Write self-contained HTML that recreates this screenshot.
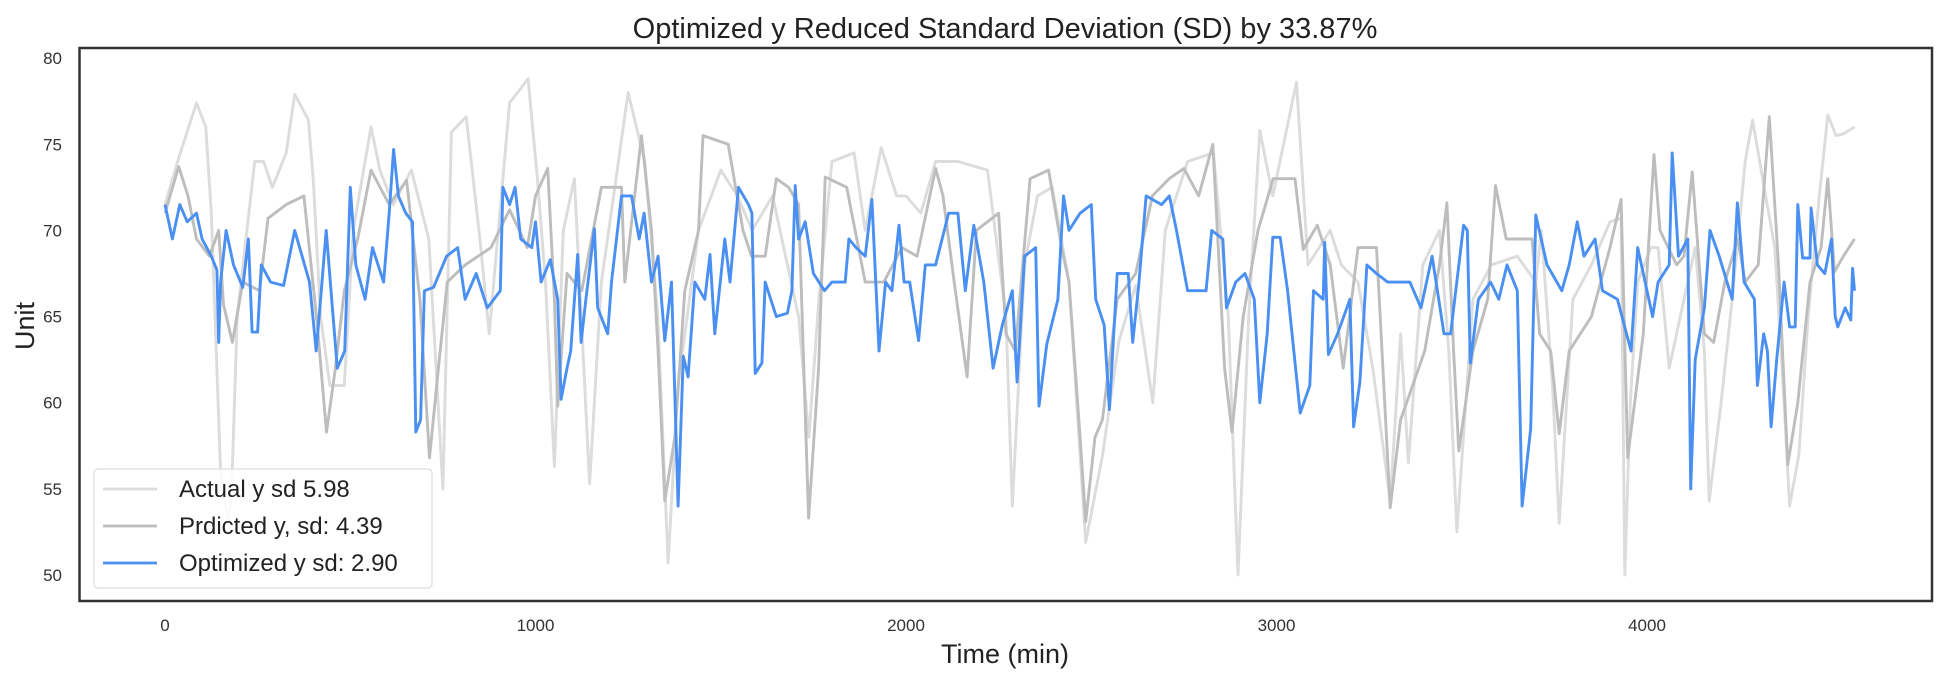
<!DOCTYPE html>
<html><head><meta charset="utf-8"><style>
html,body{margin:0;padding:0;background:#fff;}
svg{display:block;font-family:"Liberation Sans",Arial,sans-serif;}
</style></head><body>
<svg id="chart" width="1954" height="676" viewBox="0 0 1954 676">
<rect x="0" y="0" width="1954" height="676" fill="#fff"/>
<text x="1005" y="38" text-anchor="middle" font-size="29" fill="#222">Optimized y Reduced Standard Deviation (SD) by 33.87%</text>
<g id="yticks"></g>
<g id="xticks"></g>
<g id="series"></g>
<rect x="79.5" y="48" width="1852.5" height="553" fill="none" stroke="#333" stroke-width="2.5"/>
<text x="1005" y="663" text-anchor="middle" font-size="27" fill="#222">Time (min)</text>
<text x="0" y="0" transform="translate(34,326) rotate(-90)" text-anchor="middle" font-size="27" fill="#222">Unit</text>
<g>
<rect x="94" y="469" width="338" height="119" rx="4" fill="#fff" fill-opacity="0.85" stroke="#ddd" stroke-width="1.2"/>
<line x1="103" y1="489" x2="157" y2="489" stroke="#dcdcdc" stroke-width="2.8"/>
<text x="179" y="497" font-size="24" fill="#222">Actual y sd 5.98</text>
<line x1="103" y1="526" x2="157" y2="526" stroke="#bdbdbd" stroke-width="2.8"/>
<text x="179" y="534" font-size="24" fill="#222">Prdicted y, sd: 4.39</text>
<line x1="103" y1="563" x2="157" y2="563" stroke="#4a8ff2" stroke-width="2.8"/>
<text x="179" y="571" font-size="24" fill="#222">Optimized y sd: 2.90</text>
</g>
</svg>
<script>
const yTickValues = [50,55,60,65,70,75,80];
const xTickValues = [0,1000,2000,3000,4000];

const actualTime = [0,37,85,110,125,150,170,180,195,242,266,290,327,350,387,400,420,445,484,508,556,580,616,665,712,750,773,813,850,875,930,980,1005,1027,1051,1075,1105,1146,1178,1214,1250,1295,1330,1358,1385,1440,1500,1545,1585,1640,1710,1738,1765,1800,1860,1890,1933,1975,2000,2040,2080,2140,2220,2270,2287,2320,2355,2395,2440,2485,2530,2575,2620,2666,2700,2760,2830,2870,2896,2925,2955,2990,3054,3085,3145,3175,3220,3260,3307,3335,3356,3395,3440,3465,3487,3530,3580,3650,3700,3715,3745,3763,3800,3850,3900,3930,3940,3955,3975,4010,4030,4060,4100,4130,4155,4168,4200,4230,4265,4285,4320,4345,4370,4385,4410,4435,4465,4488,4510,4530,4560];
const actualVals = [71.5,74.2,77.4,76,71,56,53,55,65,74,74,72.5,74.5,77.9,76.4,73,65,61,61,70,76,73.5,71.5,73.5,69.5,55,75.7,76.6,69.5,64,77.4,78.8,73,67,56.3,70,73,55.3,67,72.5,78,74,65,50.7,61,70,73.5,72,70,72,65,58,66,74,74.5,70,74.8,72,72,71,74,74,73.5,65,54,68,72,72.5,67,51.9,56.9,63.6,66.8,60,70,74,74.5,65,50,65,75.8,72,78.6,68,70,68,67,62,54.3,64,56.5,68,70,63,52.5,66,68,68.5,67,70,61,53,66,68,70.5,70.7,50,60,67,69,69,62,66,69,63,54.3,60,66,74,76.4,72,69,60,54,57,65,72,76.7,75.5,75.6,76];

const predTime = [0,37,62,85,120,145,158,182,210,255,278,327,375,411,436,460,484,520,556,605,652,688,714,738,762,810,880,930,978,1000,1033,1051,1060,1085,1125,1178,1232,1241,1286,1313,1331,1349,1376,1403,1440,1452,1520,1560,1583,1620,1650,1683,1710,1737,1764,1782,1840,1890,1940,1989,2030,2080,2100,2130,2165,2190,2250,2270,2295,2335,2385,2420,2440,2470,2485,2510,2530,2570,2620,2665,2710,2750,2790,2828,2860,2880,2910,2950,2991,3050,3072,3110,3145,3180,3220,3270,3280,3307,3335,3400,3440,3460,3478,3492,3530,3570,3591,3620,3690,3710,3740,3763,3790,3850,3900,3930,3948,3990,4019,4035,4080,4100,4122,4155,4180,4210,4245,4265,4300,4330,4355,4380,4407,4440,4470,4488,4506,4530,4560];
const predVals = [71,73.7,72,69.5,68.5,70,65.7,63.5,67,66.5,70.7,71.5,72,64.5,58.3,62,66.5,69.5,73.5,71.5,72.9,66,56.8,62,67,68,69,71.2,69,72,73.6,66,59.8,67.5,66.5,72.5,72.5,67,75.5,70,63,54.3,58,66.5,70,75.5,75,70,68.5,68.5,73,72.5,71.5,53.3,62,73.1,72.5,67,67,69,68.5,73.6,72,67,61.5,70,71,64,63,73,73.5,69,67,58,53.1,58,59,66,67.5,72,73,73.6,72,75,62,58.3,65,70,73,73,68.9,70.3,68,62,69,69,65,53.9,59,63,68,71.6,63,57.2,63,66,72.6,69.5,69.5,64,63,58.2,63,65,69,71.8,56.8,64,74.4,70,68,68.5,73.4,64,63.5,67,69.5,67,68,76.6,68,56.4,60,67,69,73,67.6,68.5,69.5];

const optTime = [0,20,40,60,85,100,125,140,145,150,165,185,210,225,235,250,260,285,320,350,370,390,408,420,435,450,465,485,500,515,540,560,590,605,617,630,650,668,677,690,700,725,760,790,810,840,870,905,912,930,945,960,990,1000,1015,1040,1060,1069,1085,1095,1114,1123,1136,1159,1168,1195,1205,1232,1259,1280,1293,1313,1331,1349,1367,1385,1399,1412,1430,1457,1471,1484,1511,1525,1548,1575,1584,1593,1611,1620,1650,1680,1692,1701,1710,1728,1750,1780,1800,1836,1846,1865,1890,1908,1927,1945,1962,1981,1995,2010,2034,2052,2080,2115,2140,2160,2183,2210,2235,2260,2287,2300,2320,2350,2359,2380,2410,2425,2440,2470,2500,2512,2535,2549,2570,2600,2612,2628,2648,2690,2711,2730,2760,2810,2825,2855,2865,2890,2915,2940,2955,2975,2990,3010,3030,3064,3090,3100,3126,3130,3140,3165,3198,3208,3225,3244,3270,3300,3360,3390,3420,3452,3470,3505,3515,3523,3545,3578,3600,3622,3650,3663,3686,3700,3730,3770,3790,3812,3830,3860,3880,3920,3957,3975,3995,4015,4030,4060,4068,4085,4110,4118,4130,4155,4170,4195,4230,4244,4262,4290,4298,4315,4325,4335,4350,4370,4385,4400,4407,4420,4440,4443,4460,4480,4498,4508,4515,4535,4550,4555,4560];
const optVals = [71.5,69.5,71.5,70.5,71,69.5,68.5,67.7,63.5,67,70,68,66.7,69.5,64.1,64.1,68,67,66.8,70,68.5,67,63,66,70,66,62,63,72.5,68,66,69,67,71,74.7,72,71,70.5,58.3,59,66.5,66.7,68.5,69,66,67.5,65.5,66.5,72.5,71.5,72.5,69.5,69,70.5,67,68.3,66,60.2,62,63,68.6,63.5,66,70.1,65.5,64,67,72,72,69.5,71,67,68.5,63.6,67,54,62.7,61.5,67,66,68.6,64,69.5,67,72.5,71.5,71,61.7,62.3,67,65,65.2,66.5,72.6,69.5,70.5,67.5,66.5,67,67,69.5,69,68.5,71.8,63,67,66.5,70.3,67,67,63.6,68,68,71,71,66.5,70.3,67,62,64.5,66.5,61.2,68.5,69,59.8,63.4,66,72,70,71,71.5,66,64.5,59.6,67.5,67.5,63.5,66.8,72,71.5,72,70,66.5,66.5,70,69.5,65.5,67,67.5,66,60,64,69.6,69.6,66.5,59.4,61,66.5,66,69.3,62.8,64,66,58.6,61.2,68,67.5,67,67,65.5,68.5,64,64,70.3,70,62.3,66,67,66,68,66.5,54,58.5,70.9,68,66.5,68,70.5,68.5,69.5,66.5,66,63,69,67,65,67,68,74.5,68.5,69.5,55,62.5,65.5,70,68.5,66,71.6,67,66,61,64,63,58.6,62.5,67,64.4,64.4,71.5,68.4,68.4,71.3,68,67.5,69.5,65,64.4,65.5,64.8,67.8,66.5];

const NS = "http://www.w3.org/2000/svg";
function xScale(t){ return 165 + t * 0.3705; }
function yScale(v){ return 575 - (v - 50) * 17.23; }

const yg = document.getElementById('yticks');
yTickValues.forEach(v => {
  const t = document.createElementNS(NS, 'text');
  t.setAttribute('x', 62); t.setAttribute('y', yScale(v) + 6);
  t.setAttribute('text-anchor', 'end'); t.setAttribute('font-size', '17'); t.setAttribute('fill', '#333');
  
  
  t.textContent = v;
  yg.appendChild(t);
});
const xg = document.getElementById('xticks');
xTickValues.forEach(v => {
  const t = document.createElementNS(NS, 'text');
  t.setAttribute('x', xScale(v)); t.setAttribute('y', 631);
  t.setAttribute('text-anchor', 'middle'); t.setAttribute('font-size', '17'); t.setAttribute('fill', '#333');
  
  
  t.textContent = v;
  xg.appendChild(t);
});

const sg = document.getElementById('series');
function drawLine(times, vals, color, name){
  const n = Math.min(times.length, vals.length);
  let d = '';
  for (let i = 0; i < n; i++) d += (i ? 'L' : 'M') + xScale(times[i]).toFixed(1) + ',' + yScale(vals[i]).toFixed(1);
  const p = document.createElementNS(NS, 'path');
  p.setAttribute('d', d); p.setAttribute('fill', 'none'); p.setAttribute('stroke', color);
  p.setAttribute('stroke-width', '2.9'); p.setAttribute('stroke-linejoin', 'round');
  
  
  sg.appendChild(p);
}
drawLine(actualTime, actualVals, '#dcdcdc', 'actual-y-line');
drawLine(predTime, predVals, '#bdbdbd', 'predicted-y-line');
drawLine(optTime, optVals, '#4a8ff2', 'optimized-y-line');
</script>
</body></html>
